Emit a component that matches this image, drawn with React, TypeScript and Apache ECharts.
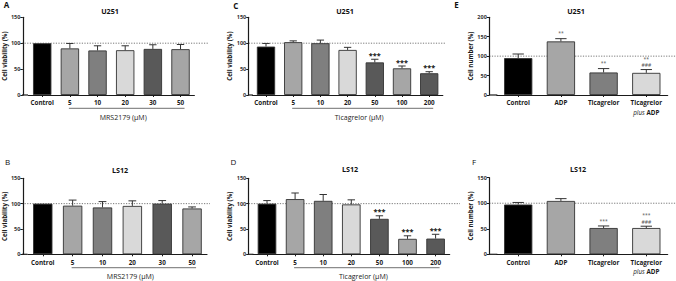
import React, { useEffect, useRef } from 'react';
import * as echarts from 'echarts';

// ---------- data ----------
const mrsDoses = ['Control', '5', '10', '20', '30', '50'];
const ticagrelorDoses = ['Control', '5', '10', '20', '50', '100', '200'];
const treatments = ['Control', 'ADP', 'Ticagrelor', 'Ticagrelor plus ADP'];

const u251MrsViability = [100, 90, 86, 86.5, 89, 88.5];
const u251MrsSem = [0, 9.5, 9, 8.5, 8, 9];
const ls12MrsViability = [100, 96, 92.5, 95.5, 100, 90.5];
const ls12MrsSem = [0, 11, 11.5, 10, 6, 3];

const u251TicViability = [93.5, 102, 100, 87, 63, 51.5, 42];
const u251TicSem = [6, 2.5, 6, 5, 6, 4.5, 3];
const ls12TicViability = [100, 109, 105.5, 98.5, 70, 30.5, 31];
const ls12TicSem = [6, 12, 12.5, 9, 6, 6, 8.5];

const u251CellNumber = [95, 138, 58, 57];
const u251CellNumberSem = [10.5, 7, 10, 8.5];
const ls12CellNumber = [97.5, 104.5, 51.5, 51.5];
const ls12CellNumberSem = [4, 4.5, 4, 3.5];

const noSig6 = ['', '', '', '', '', ''];
const noSig7 = ['', '', '', '', '', '', ''];
const ticVsControl = ['', '', '', '', '***', '***', '***'];
const u251VsControl = ['', '**', '**', '**'];
const ls12VsControl = ['', '', '***', '***'];
const vsAdp = ['', '', '', '###'];

const referenceLevel = 100;
const viabilityMax = 150;
const cellNumberMax = 200;
const tickStep = 50;

const mrsColors = ['#000000', '#a6a6a6', '#7f7f7f', '#d9d9d9', '#595959', '#a6a6a6'];
const ticColors = ['#000000', '#a6a6a6', '#7f7f7f', '#d9d9d9', '#595959', '#a6a6a6', '#595959'];
const treatmentColors = ['#000000', '#a6a6a6', '#7f7f7f', '#d9d9d9'];

// ---------- layout ----------
const FONT = '"Open Sans", "DejaVu Sans", sans-serif';
const AX = '#1a1a1a';

type Panel = {
  letter: string; letterBold: boolean; letterX: number; letterY: number;
  title: string; titleX: number; titleY: number;
  categories: string[]; values: number[]; errors: number[];
  sigTop: string[]; sigBottom: string[]; colors: string[];
  sigColor: string; sigSize: number; sigBold: boolean; sigLine: number; sigLift1: number; sigLift2: number;
  axisX: number; left: number; top: number; width: number; height: number;
  yMax: number; yName: string; nameGap: number; barWidth: number;
  groupLabel: string | null; dotEnd: number;
};

const panels: Panel[] = [
  {
    letter: 'A', letterBold: true, letterX: 6.5, letterY: 4.5, title: 'U251', titleX: 110, titleY: 11,
    categories: mrsDoses, values: u251MrsViability, errors: u251MrsSem, sigTop: noSig6, sigBottom: noSig6,
    colors: mrsColors, sigColor: '#111', sigSize: 7.3, sigBold: true, sigLine: 7.3, sigLift1: 0.8, sigLift2: 0.8,
    axisX: 22, left: 27.55, top: 17.3, width: 166.8, height: 77.7,
    yMax: viabilityMax, yName: 'Cell viability (%)', nameGap: 12, barWidth: 18.4,
    groupLabel: 'MRS2179 (μM)', dotEnd: 208,
  },
  {
    letter: 'B', letterBold: false, letterX: 7.5, letterY: 161, title: 'LS12', titleX: 120, titleY: 170,
    categories: mrsDoses, values: ls12MrsViability, errors: ls12MrsSem, sigTop: noSig6, sigBottom: noSig6,
    colors: mrsColors, sigColor: '#111', sigSize: 7.3, sigBold: true, sigLine: 7.3, sigLift1: 0.8, sigLift2: 0.8,
    axisX: 22, left: 27, top: 178.3, width: 180, height: 76,
    yMax: viabilityMax, yName: 'Cell viability (%)', nameGap: 12, barWidth: 19.4,
    groupLabel: 'MRS2179 (μM)', dotEnd: 210,
  },
  {
    letter: 'C', letterBold: true, letterX: 235.8, letterY: 5, title: 'U251', titleX: 345, titleY: 11,
    categories: ticagrelorDoses, values: u251TicViability, errors: u251TicSem, sigTop: ticVsControl, sigBottom: noSig7,
    colors: ticColors, sigColor: '#111', sigSize: 7.3, sigBold: true, sigLine: 7.3, sigLift1: 0.8, sigLift2: 0.8,
    axisX: 248.7, left: 252.4, top: 17.3, width: 190.4, height: 77.7,
    yMax: viabilityMax, yName: 'Cell viability (%)', nameGap: 12, barWidth: 18.3,
    groupLabel: 'Ticagrelor (μM)', dotEnd: 445,
  },
  {
    letter: 'D', letterBold: false, letterX: 233.5, letterY: 161, title: 'LS12', titleX: 350, titleY: 169,
    categories: ticagrelorDoses, values: ls12TicViability, errors: ls12TicSem, sigTop: ticVsControl, sigBottom: noSig7,
    colors: ticColors, sigColor: '#111', sigSize: 7.3, sigBold: true, sigLine: 7.3, sigLift1: 0.8, sigLift2: 0.8,
    axisX: 248.7, left: 252.95, top: 178.3, width: 196.7, height: 76,
    yMax: viabilityMax, yName: 'Cell viability (%)', nameGap: 12, barWidth: 18.6,
    groupLabel: 'Ticagrelor (μM)', dotEnd: 460,
  },
  {
    letter: 'E', letterBold: true, letterX: 456.5, letterY: 4.2, title: 'U251', titleX: 576, titleY: 11,
    categories: treatments, values: u251CellNumber, errors: u251CellNumberSem, sigTop: u251VsControl, sigBottom: vsAdp,
    colors: treatmentColors, sigColor: '#555', sigSize: 5.0, sigBold: false, sigLine: 6.4, sigLift1: 2.2, sigLift2: 1.3,
    axisX: 489.3, left: 496.85, top: 17.3, width: 170.8, height: 77.7,
    yMax: cellNumberMax, yName: 'Cell number (%)', nameGap: 15.5, barWidth: 28.3,
    groupLabel: null, dotEnd: 676,
  },
  {
    letter: 'F', letterBold: false, letterX: 474, letterY: 161, title: 'LS12', titleX: 578, titleY: 169.3,
    categories: treatments, values: ls12CellNumber, errors: ls12CellNumberSem, sigTop: ls12VsControl, sigBottom: vsAdp,
    colors: treatmentColors, sigColor: '#555', sigSize: 5.0, sigBold: false, sigLine: 6.4, sigLift1: 2.2, sigLift2: 1.3,
    axisX: 489.3, left: 496.85, top: 177.7, width: 170.8, height: 76.6,
    yMax: viabilityMax, yName: 'Cell number (%)', nameGap: 15.5, barWidth: 28.3,
    groupLabel: null, dotEnd: 676,
  },
];

function textEl(x: number, y: number, text: string, size: number, weight: string, fill: string, extra: any = {}) {
  return {
    type: 'text', x, y, silent: true,
    style: {
      text, fontSize: size, fontWeight: weight, fontFamily: FONT, fill,
      align: 'center', textAlign: 'center', verticalAlign: 'middle', textVerticalAlign: 'middle',
      ...extra,
    },
  };
}

export default function App() {
  const ref = useRef<HTMLDivElement>(null);

  useEffect(() => {
    if (!ref.current) return;
    const chart = echarts.init(ref.current, null, { renderer: 'svg' });

    const grid = panels.map((p) => ({ left: p.left, top: p.top, width: p.width, height: p.height, containLabel: false }));

    const xAxis = panels.map((p, i) => ({
      type: 'category', gridIndex: i, data: p.categories, boundaryGap: true,
      axisLine: { show: true, lineStyle: { color: AX, width: 1.2 } },
      axisTick: { show: true, alignWithLabel: true, length: 2, lineStyle: { color: AX, width: 1 } },
      axisLabel: {
        interval: 0, margin: 3, fontSize: 6.3, fontWeight: 'bold', color: '#1a1a1a', fontFamily: FONT, lineHeight: 9.5,
        formatter: (v: string) => (v === 'Ticagrelor plus ADP' ? 'Ticagrelor\n{i|plus} ADP' : v),
        rich: {
          i: { fontStyle: 'italic', fontWeight: 'normal', fontSize: 6.3, fontFamily: FONT, color: '#1a1a1a', lineHeight: 9.5 },
        },
      },
      splitLine: { show: false },
    }));

    const yAxis = panels.map((p, i) => ({
      type: 'value', gridIndex: i, min: 0, max: p.yMax, interval: tickStep,
      offset: p.left - p.axisX,
      name: p.yName, nameLocation: 'middle', nameGap: p.nameGap,
      nameTextStyle: { fontSize: 6.2, fontWeight: 'bold', color: '#1a1a1a', fontFamily: FONT },
      axisLine: { show: true, lineStyle: { color: AX, width: 1.2 } },
      axisTick: { show: true, length: 2.5, lineStyle: { color: AX, width: 1 } },
      axisLabel: { fontSize: 5.5, fontWeight: 'bold', color: '#333', fontFamily: FONT, margin: 2.5 },
      splitLine: { show: false },
    }));

    const series: any[] = [];
    panels.forEach((p, i) => {
      series.push({
        type: 'bar', xAxisIndex: i, yAxisIndex: i, barWidth: p.barWidth,
        data: p.values.map((v, k) => ({ value: v, itemStyle: { color: p.colors[k] } })),
        itemStyle: { borderColor: '#333', borderWidth: 0.9 },
      });
      const cap = p.barWidth * 0.2;
      series.push({
        type: 'custom', xAxisIndex: i, yAxisIndex: i, z: 5,
        data: p.values.map((v, k) => [k, v, p.errors[k]]),
        renderItem: (params: any, api: any) => {
          const k = api.value(0);
          const v = api.value(1);
          const e = api.value(2);
          const base = api.coord([k, v]);
          const top = api.coord([k, v + e]);
          const children: any[] = [];
          const ls = { stroke: '#333', lineWidth: 1 };
          if (e > 0) {
            children.push({ type: 'line', shape: { x1: base[0], y1: base[1], x2: top[0], y2: top[1] }, style: ls });
            children.push({ type: 'line', shape: { x1: top[0] - cap, y1: top[1], x2: top[0] + cap, y2: top[1] }, style: ls });
          }
          const idx = params.dataIndex;
          const lines = [p.sigTop[idx], p.sigBottom[idx]].filter((t) => !!t);
          if (lines.length) {
            const lift = lines.length > 1 ? p.sigLift2 : p.sigLift1;
            children.push({
              type: 'text', x: top[0], y: top[1] - lift,
              style: {
                text: lines.join('\n'), fontSize: p.sigSize, lineHeight: p.sigLine,
                fontWeight: p.sigBold ? 'bold' : 'normal', fontFamily: FONT, fill: p.sigColor,
                align: 'center', textAlign: 'center', verticalAlign: 'bottom', textVerticalAlign: 'bottom',
              },
            });
          }
          return { type: 'group', children };
        },
      });
    });

    chart.setOption({ animation: false, grid, xAxis, yAxis, series });

    const graphic: any[] = [];
    panels.forEach((p, i) => {
      const y0 = chart.convertToPixel({ yAxisIndex: i } as any, 0) as number;
      const yRef = chart.convertToPixel({ yAxisIndex: i } as any, referenceLevel) as number;
      // x-axis line continuation to the offset y-axis
      graphic.push({ type: 'line', silent: true, z: 3, shape: { x1: p.axisX, y1: y0, x2: p.left + 0.5, y2: y0 }, style: { stroke: AX, lineWidth: 1.2 } });
      // dotted 100 % reference
      graphic.push({ type: 'line', silent: true, z: 0, shape: { x1: p.axisX, y1: yRef, x2: p.dotEnd, y2: yRef }, style: { stroke: '#555', lineWidth: 0.8, lineDash: [1.2, 1.4] } });
      graphic.push(textEl(p.letterX, p.letterY, p.letter, 8, p.letterBold ? 'bold' : 'normal', '#111'));
      graphic.push(textEl(p.titleX, p.titleY, p.title, 7.2, 'bold', '#111'));
      if (p.groupLabel) {
        const last = p.categories.length - 1;
        const xa = chart.convertToPixel({ xAxisIndex: i } as any, 1) as number;
        const xb = chart.convertToPixel({ xAxisIndex: i } as any, last) as number;
        graphic.push({ type: 'line', silent: true, shape: { x1: xa - 1, y1: y0 + 13.3, x2: xb + 4, y2: y0 + 13.3 }, style: { stroke: '#8c8c8c', lineWidth: 1.3 } });
        graphic.push(textEl((xa + xb) / 2 - 2, y0 + 22, p.groupLabel, 7, 'normal', '#222'));
      }
    });
    chart.setOption({ graphic });

    return () => chart.dispose();
  }, []);

  return <div ref={ref} style={{ position: 'fixed', left: 0, top: 0, width: 676, height: 281, background: '#fff' }} />;
}
